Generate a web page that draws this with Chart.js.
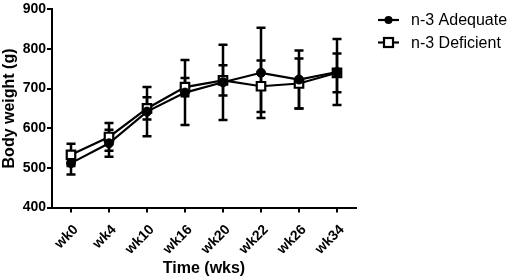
<!DOCTYPE html>
<html>
<head>
<meta charset="utf-8">
<script src="https://cdn.jsdelivr.net/npm/chart.js@4/dist/chart.umd.min.js"></script>
<style>
html,body{margin:0;padding:0;background:#fff;}
#wrap{width:510px;height:278px;position:relative;}
</style>
</head>
<body>
<div id="wrap"><canvas id="c" width="510" height="278"></canvas></div>
<script>
const categories = ["wk0","wk4","wk10","wk16","wk20","wk22","wk26","wk34"];
const adequateMean = [512, 562, 642, 690, 716, 740, 723, 742];
const adequateSD   = [29, 34, 62, 82, 95, 114, 73, 83];
const deficientMean = [533, 578, 650, 704, 721, 706, 713, 740];
const deficientSD   = [28, 35, 28, 23, 38, 65, 63, 49];
const yTicks = [400, 500, 600, 700, 800, 900];
const seriesNames = ["n-3 Adequate", "n-3 Deficient"];

const FONT = "'Liberation Sans', Arial, Helvetica, sans-serif";

const errorBars = {
  id: 'errorBars',
  beforeDatasetsDraw(chart) {
    const ctx = chart.ctx;
    const y = chart.scales.y;
    chart.data.datasets.forEach((ds, di) => {
      const meta = chart.getDatasetMeta(di);
      ctx.save();
      ctx.strokeStyle = '#000';
      ctx.lineWidth = 2.5;
      meta.data.forEach((pt, i) => {
        const m = ds.data[i], s = ds.sd[i];
        const x = pt.x;
        const yt = y.getPixelForValue(m + s);
        const yb = y.getPixelForValue(m - s);
        ctx.beginPath();
        ctx.moveTo(x, yt); ctx.lineTo(x, yb);
        ctx.moveTo(x - 4.5, yt); ctx.lineTo(x + 4.5, yt);
        ctx.moveTo(x - 4.5, yb); ctx.lineTo(x + 4.5, yb);
        ctx.stroke();
      });
      ctx.restore();
    });
  }
};

const customLegend = {
  id: 'customLegend',
  afterDraw(chart) {
    const ctx = chart.ctx;
    const rows = [20, 42.5];
    chart.data.datasets.forEach((ds, i) => {
      const yy = rows[i];
      ctx.save();
      ctx.strokeStyle = '#000';
      ctx.lineWidth = 2.2;
      ctx.beginPath(); ctx.moveTo(378, yy); ctx.lineTo(399, yy); ctx.stroke();
      if (ds.pointStyle === 'circle') {
        ctx.fillStyle = '#000';
        ctx.beginPath(); ctx.arc(388.5, yy, 4, 0, Math.PI * 2); ctx.fill();
      } else {
        ctx.fillStyle = '#fff';
        ctx.fillRect(384, yy - 4.5, 9, 9);
        ctx.strokeRect(384, yy - 4.5, 9, 9);
      }
      ctx.fillStyle = '#000';
      ctx.font = "16px " + FONT;
      ctx.textBaseline = 'middle';
      ctx.fillText(ds.label, 411, yy + 1);
      ctx.restore();
    });
  }
};

new Chart(document.getElementById('c'), {
  type: 'line',
  data: {
    labels: categories,
    datasets: [
      {
        label: seriesNames[0], data: adequateMean, sd: adequateSD,
        borderColor: '#000', backgroundColor: '#000', borderWidth: 2.2,
        pointStyle: 'circle', pointRadius: 4.5, pointBorderWidth: 1,
        pointBackgroundColor: '#000', pointBorderColor: '#000', tension: 0
      },
      {
        label: seriesNames[1], data: deficientMean, sd: deficientSD,
        borderColor: '#000', backgroundColor: '#fff', borderWidth: 2.2,
        pointStyle: 'rect', pointRadius: 6, pointBorderWidth: 2.2,
        pointBackgroundColor: '#fff', pointBorderColor: '#000', tension: 0
      }
    ]
  },
  options: {
    responsive: false,
    animation: false,
    layout: { padding: { top: 6, right: 154, bottom: 0, left: 0 } },
    plugins: { legend: { display: false }, tooltip: { enabled: false } },
    scales: {
      x: {
        offset: true,
        grid: { display: true, drawOnChartArea: false, drawTicks: true, tickLength: 5, color: '#000', lineWidth: 2, offset: false },
        border: { display: true, color: '#000', width: 2 },
        ticks: {
          color: '#000', font: { family: FONT, size: 14, weight: 'bold' },
          maxRotation: 45, minRotation: 45, padding: 9, labelOffset: 5, autoSkip: false
        },
        title: { display: true, text: 'Time (wks)', color: '#000', font: { family: FONT, size: 16, weight: 'bold' }, padding: { top: 0, bottom: 0 } },
        afterFit(s) { s.height = 70.5; }
      },
      y: {
        min: 400, max: 900,
        afterBuildTicks(s) { s.ticks = yTicks.map(v => ({ value: v })); },
        grid: { display: true, drawOnChartArea: false, drawTicks: true, tickLength: 5, color: '#000', lineWidth: 2 },
        border: { display: true, color: '#000', width: 2 },
        ticks: { color: '#000', font: { family: FONT, size: 14, weight: 'bold' }, padding: 1 },
        title: { display: true, text: 'Body weight (g)', color: '#000', font: { family: FONT, size: 16, weight: 'bold' }, padding: { top: 0, bottom: 0 } },
        afterFit(s) { s.width = 52; }
      }
    }
  },
  plugins: [errorBars, customLegend]
});
</script>
</body>
</html>
